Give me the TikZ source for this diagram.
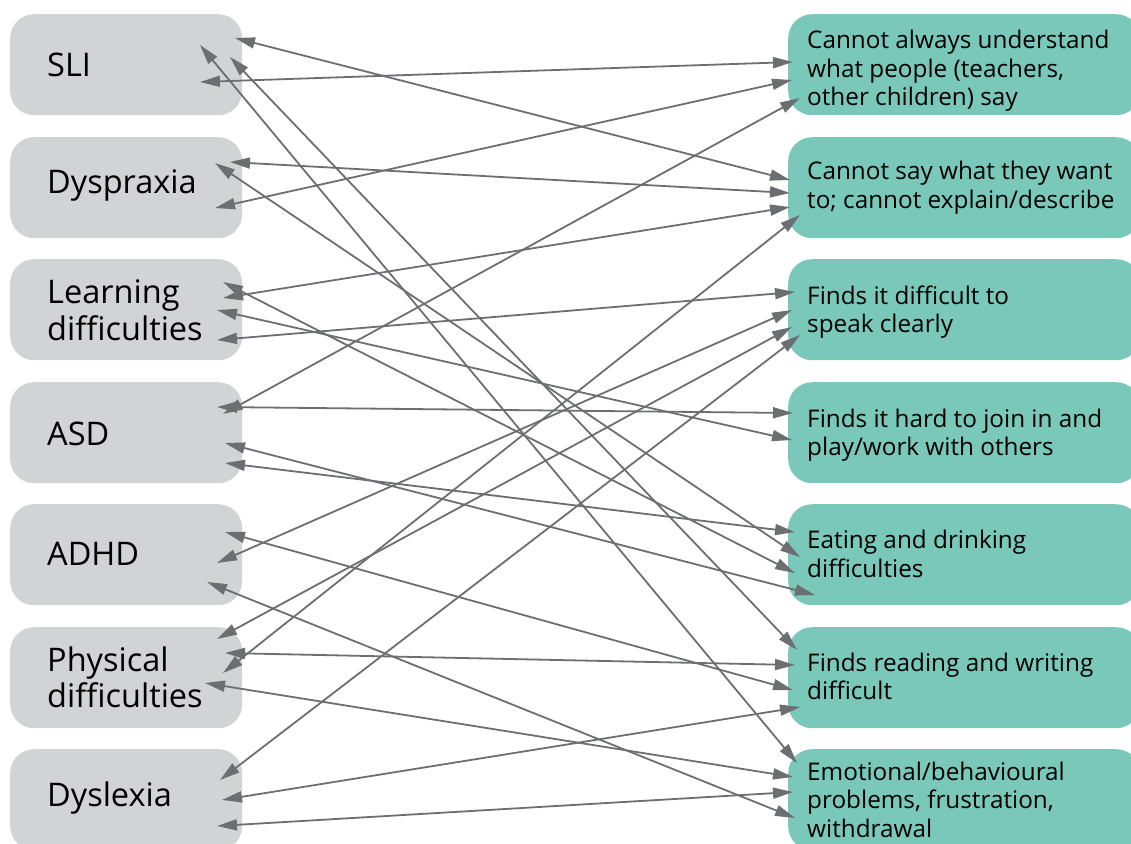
\documentclass[tikz,border=0pt]{standalone}
\usepackage{fontspec}
\setmainfont{Open Sans}
\usetikzlibrary{arrows.meta}
\definecolor{boxgray}{HTML}{D1D3D4}
\definecolor{boxteal}{HTML}{7AC8BA}
\definecolor{linegray}{HTML}{6D6E71}
\begin{document}
\begin{tikzpicture}[x=1pt,y=-1pt,
  lbox/.style={fill=boxgray, draw=none, rounded corners=24pt, minimum width=232pt, minimum height=101pt, anchor=north west, inner sep=0pt},
  rbox/.style={fill=boxteal, draw=none, rounded corners=24pt, minimum width=352pt, minimum height=101pt, anchor=north west, inner sep=0pt},
  ltext/.style={anchor=north west, inner sep=0pt, align=left, font=\fontsize{32.5}{35}\selectfont},
  rtext/.style={anchor=north west, inner sep=0pt, align=left, font=\fontsize{24.3}{28.3}\selectfont},
  conn/.style={draw=linegray, line width=1.8pt, {Triangle[length=20pt,width=11pt]}-{Triangle[length=20pt,width=11pt]}}
]
\useasboundingbox (0,0) rectangle (1131,843);
% left boxes
\node[lbox] (sli) at (10,14) {};
\node[lbox] (dys) at (10,137) {};
\node[lbox] (lea) at (10,259) {};
\node[lbox] (asd) at (10,382) {};
\node[lbox] (adh) at (10,504) {};
\node[lbox] (phy) at (10,627) {};
\node[lbox] (dyl) at (10,749) {};
% right boxes
\node[rbox] (r1) at (788,14) {};
\node[rbox] (r2) at (788,137) {};
\node[rbox] (r3) at (788,259) {};
\node[rbox] (r4) at (788,382) {};
\node[rbox] (r5) at (788,504) {};
\node[rbox] (r6) at (788,627) {};
\node[rbox] (r7) at (788,749) {};
% left texts
\node[ltext] (slit) at (47,51.5) {\strut SLI};
\node[ltext] (dyst) at (47,169) {\strut Dyspraxia};
\node[ltext] (leat) at (47,279) {\strut Learning\\\strut difficulties};
\node[ltext] (asdt) at (47,420.5) {\strut ASD};
\node[ltext] (adht) at (47,540.5) {\strut ADHD};
\node[ltext] (phyt) at (47,646.5) {\strut Physical\\\strut difficulties};
\node[ltext] (dylt) at (47,782) {\strut Dyslexia};
% right texts
\node[rtext] (r1t) at (807,28.8) {\strut Cannot always understand\\\strut what people (teachers,\\\strut other children) say};
\node[rtext] (r2t) at (807,159.8) {\strut Cannot say what they want\\\strut to; cannot explain/describe};
\node[rtext] (r3t) at (807,284.5) {\strut Finds it difficult to\\\strut speak clearly};
\node[rtext] (r4t) at (807,407) {\strut Finds it hard to join in and\\\strut play/work with others};
\node[rtext] (r5t) at (807,528.8) {\strut Eating and drinking\\\strut difficulties};
\node[rtext] (r6t) at (807,651.5) {\strut Finds reading and writing\\\strut difficult};
\node[rtext] (r7t) at (807,760.5) {\strut Emotional/behavioural\\\strut problems, frustration,\\\strut withdrawal};
% connector end points
\coordinate (sliA) at (235,38);  \coordinate (sliB) at (200,82);
\coordinate (sliC) at (200,45);  \coordinate (sliD) at (230,57);
\coordinate (dysA) at (230,162); \coordinate (dysB) at (215,163);
\coordinate (dysC) at (215,208);
\coordinate (leaA) at (223,282); \coordinate (leaB) at (223,298);
\coordinate (leaC) at (217,310); \coordinate (leaD) at (217,340);
\coordinate (asdA) at (217,407); \coordinate (asdB) at (223,414);
\coordinate (asdC) at (225,443); \coordinate (asdD) at (225,463);
\coordinate (adhA) at (225,532); \coordinate (adhB) at (217,563);
\coordinate (adhC) at (207,582);
\coordinate (phyA) at (217,639); \coordinate (phyB) at (225,653);
\coordinate (phyC) at (223,673); \coordinate (phyD) at (205,683);
\coordinate (dylA) at (220,780); \coordinate (dylB) at (222,800);
\coordinate (dylC) at (217,826);
\coordinate (r1a) at (793,62);  \coordinate (r1b) at (792,80);  \coordinate (r1c) at (800,98);
\coordinate (r2a) at (790,180); \coordinate (r2b) at (790,193); \coordinate (r2c) at (790,207); \coordinate (r2d) at (800,215);
\coordinate (r3a) at (795,292); \coordinate (r3b) at (792,310); \coordinate (r3c) at (792,327); \coordinate (r3d) at (800,335);
\coordinate (r4a) at (793,413); \coordinate (r4b) at (792,440);
\coordinate (r5a) at (795,532); \coordinate (r5b) at (800,557); \coordinate (r5c) at (795,573); \coordinate (r5d) at (815,595);
\coordinate (r6a) at (797,650); \coordinate (r6b) at (795,665); \coordinate (r6c) at (793,690); \coordinate (r6d) at (800,707);
\coordinate (r7a) at (797,763); \coordinate (r7b) at (793,777); \coordinate (r7c) at (793,792); \coordinate (r7d) at (795,818);
% connectors
\draw[conn] (sliA) -- (r2a);
\draw[conn] (sliB) -- (r1a);
\draw[conn] (sliC) -- (r7a);
\draw[conn] (sliD) -- (r6a);
\draw[conn] (dysA) -- (r2b);
\draw[conn] (dysB) -- (r5b);
\draw[conn] (dysC) -- (r1b);
\draw[conn] (leaA) -- (r5c);
\draw[conn] (leaB) -- (r2c);
\draw[conn] (leaC) -- (r4b);
\draw[conn] (leaD) -- (r3a);
\draw[conn] (asdA) -- (r4a);
\draw[conn] (asdB) -- (r1c);
\draw[conn] (asdC) -- (r5d);
\draw[conn] (asdD) -- (r5a);
\draw[conn] (adhA) -- (r6c);
\draw[conn] (adhB) -- (r3b);
\draw[conn] (adhC) -- (r7d);
\draw[conn] (phyA) -- (r3c);
\draw[conn] (phyB) -- (r6b);
\draw[conn] (phyC) -- (r2d);
\draw[conn] (phyD) -- (r7b);
\draw[conn] (dylA) -- (r3d);
\draw[conn] (dylB) -- (r6d);
\draw[conn] (dylC) -- (r7c);
\end{tikzpicture}
\end{document}
